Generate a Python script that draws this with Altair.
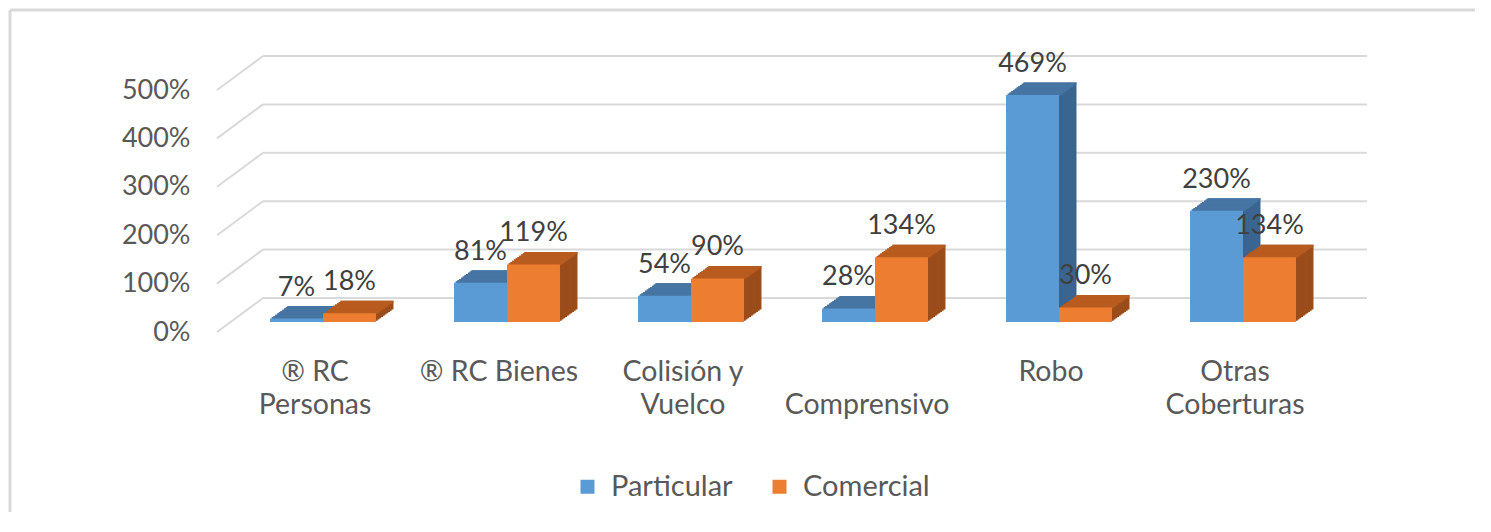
import altair as alt
import pandas as pd

# ---------------- data ----------------
categories = ["® RC\nPersonas", "® RC Bienes", "Colisión y\nVuelco", "\nComprensivo", "Robo", "Otras\nCoberturas"]
series = ["Particular", "Comercial"]
particular = [7, 81, 54, 28, 469, 230]
comercial = [18, 119, 90, 134, 30, 134]
y_ticks = [0, 100, 200, 300, 400, 500]

df = pd.DataFrame({
    "cat": categories * 2,
    "series": ["Particular"] * len(categories) + ["Comercial"] * len(categories),
    "value": particular + comercial,
})
grid_df = pd.DataFrame({"v": y_ticks})
one = pd.DataFrame({"a": [0]})

# ---------------- style / geometry ----------------
W, H = 1104, 242
FONT = "Lato"
front = {"Particular": "#5B9BD5", "Comercial": "#ED7D31"}
top_c = {"Particular": "#4675A3", "Comercial": "#B85B1F"}
side_c = {"Particular": "#3A6590", "Comercial": "#9A4D1B"}
bar_off = {"Particular": -26.5, "Comercial": 26.5}
DX, DY, N = 17.5, 12.5, 10
sx, sy = DX / N, DY / N
GRID = "#d9d9d9"

xscale = alt.Scale(domain=categories, paddingInner=0.424, paddingOuter=0.212)
yscale = alt.Scale(domain=[0, 500], nice=False, zero=True)

xaxis = alt.Axis(title=None, domain=False, ticks=False, grid=False, labelAngle=0,
                 labelExpr="split(datum.label, '\\n')", labelFontSize=28.5, labelFont=FONT,
                 labelColor="#595959", labelLineHeight=33, labelBaseline="alphabetic",
                 labelPadding=58, labelOffset=-8, labelLimit=400, labelOverlap=False)
yaxis = alt.Axis(title=None, domain=False, ticks=False, grid=False, values=y_ticks,
                 labelExpr="datum.value + '%'", labelFontSize=27, labelFont=FONT,
                 labelColor="#595959", labelPadding=41, labelOffset=10)

X = alt.X("cat:N", sort=categories, scale=xscale, axis=xaxis)
Y = alt.Y("value:Q", scale=yscale, axis=yaxis)

layers = []

# chart border (top and left)
layers.append(alt.Chart(one).mark_rule(color=GRID, strokeWidth=3).encode(
    x=alt.value(-221), x2=alt.value(1300), y=alt.value(-70)))
layers.append(alt.Chart(one).mark_rule(color=GRID, strokeWidth=3).encode(
    x=alt.value(-221), y=alt.value(-70), y2=alt.value(500)))

# back wall gridlines
layers.append(alt.Chart(grid_df).mark_rule(color=GRID, strokeWidth=2, yOffset=-24).encode(
    x=alt.value(32), x2=alt.value(W + 32),
    y=alt.Y("v:Q", scale=yscale, axis=yaxis)))
# side wall (slanted) gridlines
layers.append(alt.Chart(grid_df).mark_rule(color=GRID, strokeWidth=2, yOffset=10, y2Offset=-24).encode(
    x=alt.value(-14), x2=alt.value(32),
    y=alt.Y("v:Q", scale=yscale, axis=yaxis), y2="v:Q"))

# side faces (extrusion)
for k in range(N, 0, -1):
    for s in series:
        layers.append(alt.Chart(df).transform_filter(alt.datum.series == s).mark_bar(
            width=alt.RelativeBandSize(0.5), xOffset=bar_off[s] + k * sx,
            yOffset=-k * sy, y2Offset=-k * sy, color=side_c[s]).encode(x=X, y=Y))
# top faces
for k in range(N, 0, -1):
    for s in series:
        layers.append(alt.Chart(df).transform_filter(alt.datum.series == s).mark_bar(
            width=alt.RelativeBandSize(0.5), xOffset=bar_off[s] + k * sx,
            yOffset=-k * sy, y2Offset=-k * sy + sy + 0.8, color=top_c[s]).encode(
            x=X, y=Y, y2="value:Q"))

legend = alt.Legend(orient="none", legendX=342, legendY=392, direction="horizontal", title=None,
                    symbolType="square", symbolSize=196, symbolStrokeWidth=0,
                    labelFontSize=29, labelFont=FONT, labelColor="#595959",
                    labelOffset=9, columnPadding=32, padding=0)
color = alt.Color("series:N", scale=alt.Scale(domain=series, range=[front[s] for s in series]),
                  legend=legend)

# front faces
for s in series:
    layers.append(alt.Chart(df).transform_filter(alt.datum.series == s).mark_bar(
        width=alt.RelativeBandSize(0.5), xOffset=bar_off[s]).encode(x=X, y=Y, color=color))

# value labels
for s in series:
    layers.append(alt.Chart(df).transform_filter(alt.datum.series == s).transform_calculate(
        label="datum.value + '%'").mark_text(
        xOffset=bar_off[s], dy=-23, baseline="alphabetic", align="center",
        fontSize=27, font=FONT, color="#404040").encode(x=X, y=Y, text="label:N"))

chart = alt.layer(*layers).properties(
    width=W, height=H,
    padding={"left": 223, "top": 72, "right": 140, "bottom": 190},
    autosize=alt.AutoSizeParams(type="none"),
    background="white",
).configure_view(stroke=None)

chart.save("out.html", embed_options={"renderer": "svg", "actions": False})
